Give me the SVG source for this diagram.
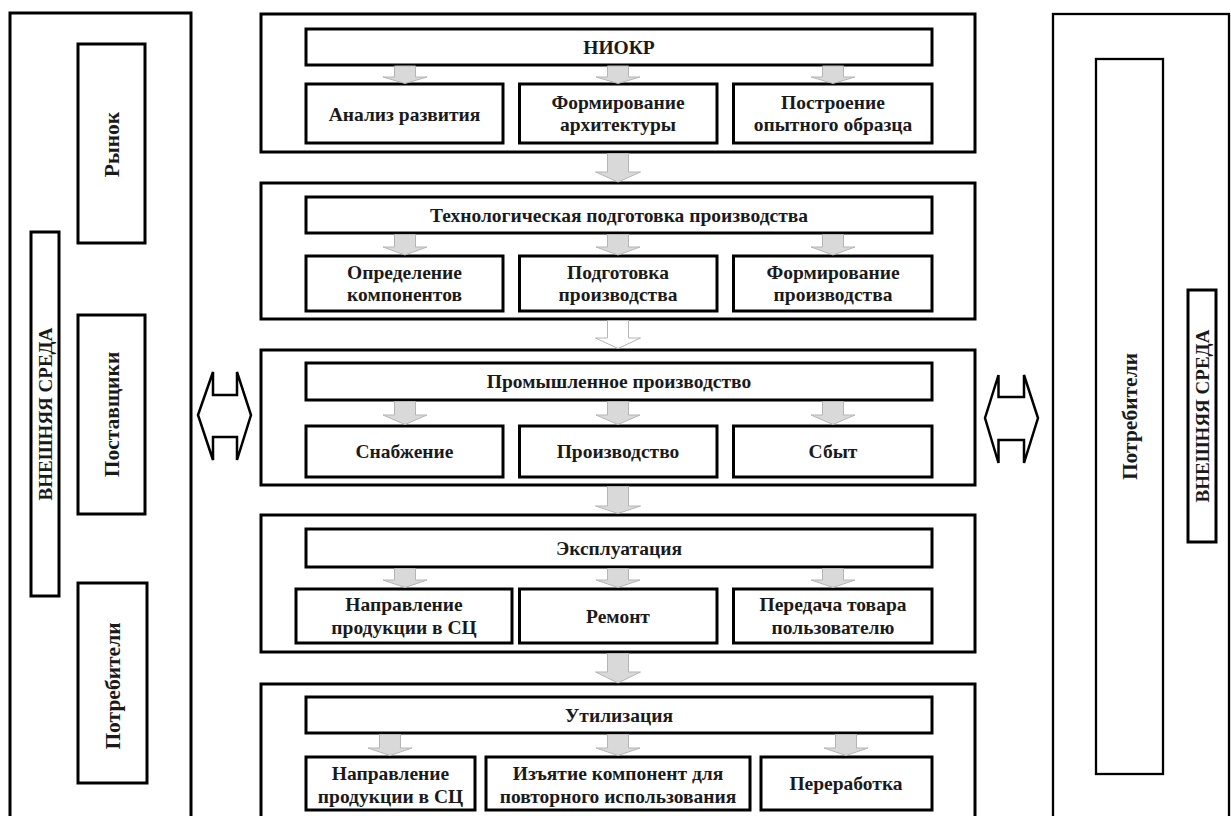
<svg xmlns="http://www.w3.org/2000/svg" width="1231" height="816" viewBox="0 0 1231 816">
<defs>
<style>
.bx{fill:#fff;stroke:#000;stroke-width:3}
.bt{fill:#fff;stroke:#000;stroke-width:2.3}
.t{font-family:"Liberation Serif","Times New Roman",serif;font-weight:bold;font-size:19.5px;fill:#1a1a1a;text-anchor:middle}
.v{font-size:21.5px}
.e{font-size:19px}
.ar{fill:#d9d9d9;stroke:#b5b5b5;stroke-width:1}
.aw{fill:#fff;stroke:#b5b5b5;stroke-width:1}
.da{fill:#fff;stroke:#000;stroke-width:2.5;stroke-linejoin:miter}
</style>
</defs>
<rect width="1231" height="816" fill="#fff"/>

<!-- Left environment -->
<g id="left-env">
<rect class="bx" x="10" y="13" width="181" height="830"/>
</g>
<g id="left-market">
<rect class="bx" x="78" y="44" width="67" height="199"/>
<text class="t v" transform="translate(119,144.5) rotate(-90)">Рынок</text>
</g>
<g id="left-external">
<rect class="bx" x="31" y="232" width="28" height="364"/>
<text class="t e" transform="translate(51.5,414) rotate(-90)">ВНЕШНЯЯ СРЕДА</text>
</g>
<g id="left-suppliers">
<rect class="bx" x="78" y="315" width="67" height="199"/>
<text class="t v" transform="translate(119,414.5) rotate(-90)">Поставщики</text>
</g>
<g id="left-consumers">
<rect class="bx" x="78" y="583" width="69" height="200"/>
<text class="t v" transform="translate(120,686) rotate(-90)">Потребители</text>
</g>

<!-- Right environment -->
<g id="right-env">
<rect class="bt" x="1053" y="14" width="176" height="830"/>
</g>
<g id="right-consumers">
<rect class="bt" x="1096" y="59" width="67" height="715"/>
<text class="t v" transform="translate(1137,416.5) rotate(-90)">Потребители</text>
</g>
<g id="right-external">
<rect class="bx" x="1188" y="290" width="28" height="252"/>
<text class="t e" transform="translate(1208.5,416) rotate(-90)">ВНЕШНЯЯ СРЕДА</text>
</g>

<!-- Section 1 -->
<g id="s1">
<rect class="bx" x="261" y="14" width="714" height="138"/>
</g>
<g id="s1-head">
<rect class="bx" x="306" y="29" width="626" height="36"/>
<text class="t" x="619" y="53.5">НИОКР</text>
</g>
<g id="s1-b1">
<rect class="bx" x="306" y="84" width="197" height="59"/>
<text class="t" x="404.5" y="120.5">Анализ развития</text>
</g>
<g id="s1-b2">
<rect class="bx" x="519.5" y="84" width="197.5" height="59"/>
<text class="t" x="618" y="108.5">Формирование</text>
<text class="t" x="618" y="131">архитектуры</text>
</g>
<g id="s1-b3">
<rect class="bx" x="733.5" y="84" width="198.5" height="59"/>
<text class="t" x="833" y="108.5">Построение</text>
<text class="t" x="833" y="131">опытного образца</text>
</g>

<!-- Section 2 -->
<g id="s2">
<rect class="bx" x="261" y="183" width="714" height="136"/>
</g>
<g id="s2-head">
<rect class="bx" x="306" y="197" width="626" height="36"/>
<text class="t" x="619" y="221.5">Технологическая подготовка производства</text>
</g>
<g id="s2-b1">
<rect class="bx" x="306" y="256" width="197" height="55"/>
<text class="t" x="404.5" y="278.5">Определение</text>
<text class="t" x="404.5" y="301">компонентов</text>
</g>
<g id="s2-b2">
<rect class="bx" x="519.5" y="256" width="197.5" height="55"/>
<text class="t" x="618" y="278.5">Подготовка</text>
<text class="t" x="618" y="301">производства</text>
</g>
<g id="s2-b3">
<rect class="bx" x="733.5" y="256" width="198.5" height="55"/>
<text class="t" x="833" y="278.5">Формирование</text>
<text class="t" x="833" y="301">производства</text>
</g>

<!-- Section 3 -->
<g id="s3">
<rect class="bx" x="261" y="350" width="714" height="135"/>
</g>
<g id="s3-head">
<rect class="bx" x="306" y="363" width="626" height="37"/>
<text class="t" x="619" y="388">Промышленное производство</text>
</g>
<g id="s3-b1">
<rect class="bx" x="306" y="426" width="197" height="51"/>
<text class="t" x="404.5" y="458">Снабжение</text>
</g>
<g id="s3-b2">
<rect class="bx" x="519.5" y="426" width="197.5" height="51"/>
<text class="t" x="618" y="458">Производство</text>
</g>
<g id="s3-b3">
<rect class="bx" x="733.5" y="426" width="198.5" height="51"/>
<text class="t" x="833" y="458">Сбыт</text>
</g>

<!-- Section 4 -->
<g id="s4">
<rect class="bx" x="261" y="515" width="714" height="137"/>
</g>
<g id="s4-head">
<rect class="bx" x="306" y="529" width="626" height="38"/>
<text class="t" x="619" y="554.5">Эксплуатация</text>
</g>
<g id="s4-b1">
<rect class="bx" x="296" y="589" width="216" height="54"/>
<text class="t" x="404" y="611">Направление</text>
<text class="t" x="404" y="633.5">продукции в СЦ</text>
</g>
<g id="s4-b2">
<rect class="bx" x="519.5" y="589" width="197.5" height="54"/>
<text class="t" x="618" y="622.5">Ремонт</text>
</g>
<g id="s4-b3">
<rect class="bx" x="733.5" y="589" width="198.5" height="54"/>
<text class="t" x="833" y="611">Передача товара</text>
<text class="t" x="833" y="633.5">пользователю</text>
</g>

<!-- Section 5 -->
<g id="s5">
<rect class="bx" x="261" y="684" width="714" height="160"/>
</g>
<g id="s5-head">
<rect class="bx" x="306" y="697" width="626" height="36"/>
<text class="t" x="619" y="721.5">Утилизация</text>
</g>
<g id="s5-b1">
<rect class="bx" x="306" y="757" width="169" height="53"/>
<text class="t" x="390.5" y="780">Направление</text>
<text class="t" x="390.5" y="802.5">продукции в СЦ</text>
</g>
<g id="s5-b2">
<rect class="bx" x="486" y="757" width="264" height="53"/>
<text class="t" x="618" y="780">Изъятие компонент для</text>
<text class="t" x="618" y="802.5">повторного использования</text>
</g>
<g id="s5-b3">
<rect class="bx" x="761" y="757" width="171" height="53"/>
<text class="t" x="846" y="790">Переработка</text>
</g>

<!-- Connectors -->
<g id="connectors">
<polygon class="ar" points="394.5,66 415.5,66 415.5,77 427,77 405,83.5 383,77 394.5,77"/>
<polygon class="ar" points="607.5,66 628.5,66 628.5,77 640,77 618,83.5 596,77 607.5,77"/>
<polygon class="ar" points="822.5,66 843.5,66 843.5,77 855,77 833,83.5 811,77 822.5,77"/>
<polygon class="ar" points="607.5,153.5 628.5,153.5 628.5,172 640.5,172 618,182 595.5,172 607.5,172"/>
<polygon class="ar" points="394.5,234.5 415.5,234.5 415.5,247 427,247 405,255 383,247 394.5,247"/>
<polygon class="ar" points="607.5,234.5 628.5,234.5 628.5,247 640,247 618,255 596,247 607.5,247"/>
<polygon class="ar" points="822.5,234.5 843.5,234.5 843.5,247 855,247 833,255 811,247 822.5,247"/>
<polygon class="aw" points="607.5,320.5 628.5,320.5 628.5,338 640.5,338 618,348.5 595.5,338 607.5,338"/>
<polygon class="ar" points="394.5,401.5 415.5,401.5 415.5,415 427,415 405,424.5 383,415 394.5,415"/>
<polygon class="ar" points="607.5,401.5 628.5,401.5 628.5,415 640,415 618,424.5 596,415 607.5,415"/>
<polygon class="ar" points="822.5,401.5 843.5,401.5 843.5,415 855,415 833,424.5 811,415 822.5,415"/>
<polygon class="ar" points="607.5,486.5 628.5,486.5 628.5,506 640.5,506 618,513.5 595.5,506 607.5,506"/>
<polygon class="ar" points="394.5,568.5 415.5,568.5 415.5,580 427,580 405,587.5 383,580 394.5,580"/>
<polygon class="ar" points="607.5,568.5 628.5,568.5 628.5,580 640,580 618,587.5 596,580 607.5,580"/>
<polygon class="ar" points="822.5,568.5 843.5,568.5 843.5,580 855,580 833,587.5 811,580 822.5,580"/>
<polygon class="ar" points="607.5,653.5 628.5,653.5 628.5,672 640.5,672 618,683 595.5,672 607.5,672"/>
<polygon class="ar" points="379.5,734.5 400.5,734.5 400.5,748 412,748 390,755.5 368,748 379.5,748"/>
<polygon class="ar" points="607.5,734.5 628.5,734.5 628.5,748 640,748 618,755.5 596,748 607.5,748"/>
<polygon class="ar" points="835.5,734.5 856.5,734.5 856.5,748 868,748 846,755.5 824,748 835.5,748"/>
<polygon class="da" points="198,415 213,372 213,395 237,395 237,372 251,415 237,460 237,437 213,437 213,460"/>
<polygon class="da" points="985,418 998.5,375 998.5,397 1024,397 1024,375 1038,418 1024,463 1024,440 998.5,440 998.5,463"/>
</g>
</svg>
